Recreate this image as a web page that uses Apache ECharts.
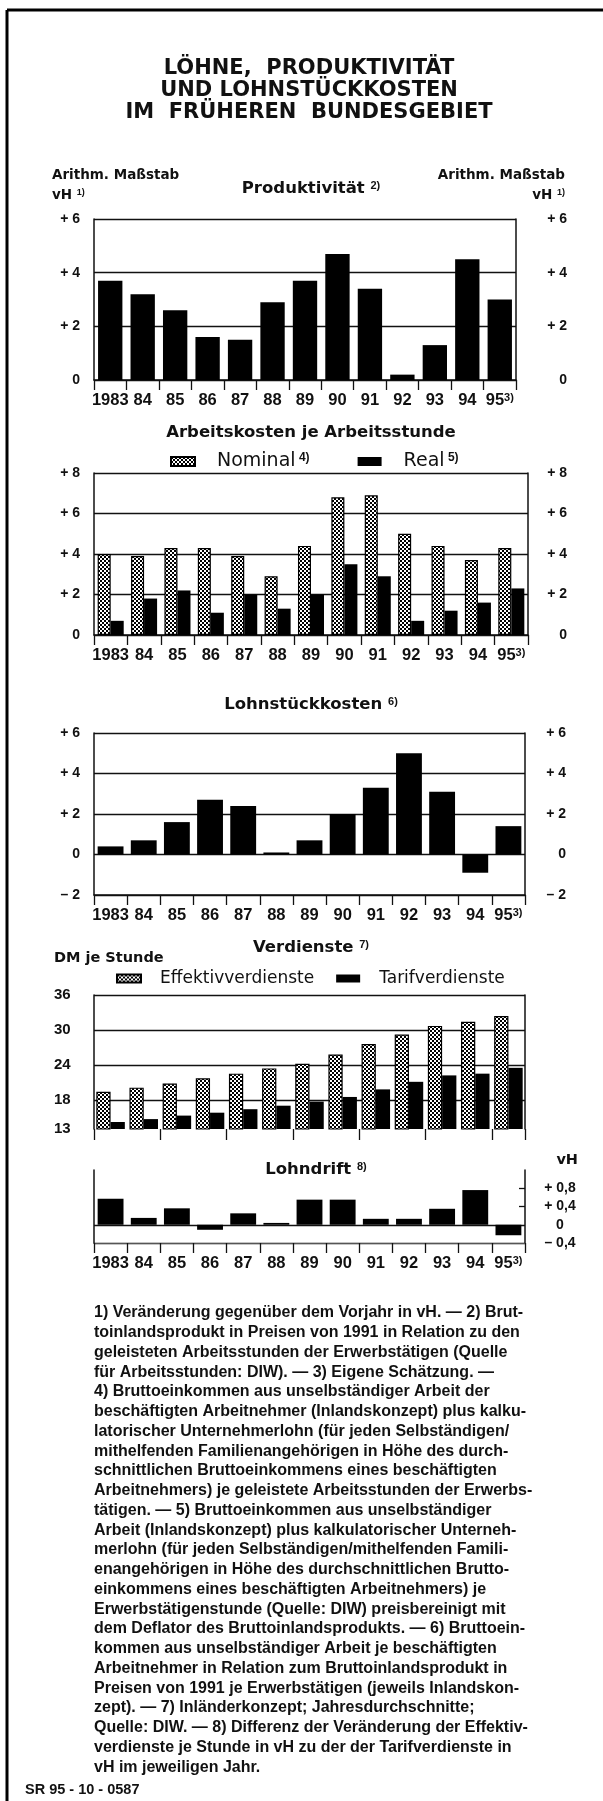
<!DOCTYPE html>
<html>
<head>
<meta charset="utf-8">
<script src="https://cdn.jsdelivr.net/npm/echarts@6/dist/echarts.min.js"></script>
<style>
  html, body { margin: 0; padding: 0; background: #fff; }
  #chart { width: 603px; height: 1801px; }
</style>
</head>
<body>
<div id="chart"></div>
<script>
// Jahre (x-Achse aller Teilgrafiken)
const years = ['1983', '84', '85', '86', '87', '88', '89', '90', '91', '92', '93', '94', '95'];

// Veraenderung gegenueber Vorjahr in vH
const produktivitaet = [3.7, 3.2, 2.6, 1.6, 1.5, 2.9, 3.7, 4.7, 3.4, 0.2, 1.3, 4.5, 3.0];
const akNominal = [4.0, 3.9, 4.3, 4.3, 3.9, 2.9, 4.4, 6.8, 6.9, 5.0, 4.4, 3.7, 4.3];
const akReal = [0.7, 1.8, 2.2, 1.1, 2.0, 1.3, 2.0, 3.5, 2.9, 0.7, 1.2, 1.6, 2.3];
const lohnstueck = [0.4, 0.7, 1.6, 2.7, 2.4, 0.1, 0.7, 2.0, 3.3, 5.0, 3.1, -0.9, 1.4];

// DM je Stunde
const effektiv = [19.4, 20.1, 20.8, 21.7, 22.5, 23.4, 24.2, 25.8, 27.6, 29.2, 30.7, 31.4, 32.4];
const tarif = [14.2, 14.7, 15.3, 15.8, 16.4, 17.0, 17.7, 18.5, 19.8, 21.1, 22.2, 22.5, 23.5];

// Lohndrift in vH-Punkten
const lohndrift = [0.57, 0.15, 0.36, -0.11, 0.25, 0.04, 0.55, 0.55, 0.13, 0.13, 0.35, 0.76, -0.23];

// Achsenbeschriftungen
const verdTicks = [13, 18, 24, 30, 36];
const driftTicks = [-0.4, 0, 0.4, 0.8];
const driftInnerTicks = [0.4, 0.8];

const footnotes = [
  '1) Veränderung gegenüber dem Vorjahr in vH. — 2) Brut-',
  'toinlandsprodukt in Preisen von 1991 in Relation zu den',
  'geleisteten Arbeitsstunden der Erwerbstätigen (Quelle',
  'für Arbeitsstunden: DIW). — 3) Eigene Schätzung. —',
  '4) Bruttoeinkommen aus unselbständiger Arbeit der',
  'beschäftigten Arbeitnehmer (Inlandskonzept) plus kalku-',
  'latorischer Unternehmerlohn (für jeden Selbständigen/',
  'mithelfenden Familienangehörigen in Höhe des durch-',
  'schnittlichen Bruttoeinkommens eines beschäftigten',
  'Arbeitnehmers) je geleistete Arbeitsstunden der Erwerbs-',
  'tätigen. — 5) Bruttoeinkommen aus unselbständiger',
  'Arbeit (Inlandskonzept) plus kalkulatorischer Unterneh-',
  'merlohn (für jeden Selbständigen/mithelfenden Famili-',
  'enangehörigen in Höhe des durchschnittlichen Brutto-',
  'einkommens eines beschäftigten Arbeitnehmers) je',
  'Erwerbstätigenstunde (Quelle: DIW) preisbereinigt mit',
  'dem Deflator des Bruttoinlandsprodukts. — 6) Bruttoein-',
  'kommen aus unselbständiger Arbeit je beschäftigten',
  'Arbeitnehmer in Relation zum Bruttoinlandsprodukt in',
  'Preisen von 1991 je Erwerbstätigen (jeweils Inlandskon-',
  'zept). — 7) Inländerkonzept; Jahresdurchschnitte;',
  'Quelle: DIW. — 8) Differenz der Veränderung der Effektiv-',
  'verdienste je Stunde in vH zu der der Tarifverdienste in',
  'vH im jeweiligen Jahr.'
];

const NUM = '"Liberation Sans", Arial, sans-serif';
const WIDE = '"DejaVu Sans", Verdana, sans-serif';
const INK = '#111';

// Punktraster fuer Nominal / Effektivverdienste
function stipple () {
  const c = document.createElement('canvas');
  c.width = 4; c.height = 4;
  const g = c.getContext('2d');
  g.fillStyle = '#fff';
  g.fillRect(0, 0, 4, 4);
  g.fillStyle = '#000';
  g.fillRect(0, 0, 2, 2);
  g.fillRect(2, 2, 2, 2);
  return c;
}
const dotted = { image: stipple(), repeat: 'repeat' };

function vhLabel (v) {
  if (Math.abs(v) < 1e-9) return '0';
  return (v > 0 ? '+ ' : '– ') + Math.abs(v);
}
function driftLabel (v) {
  if (Math.abs(v) < 1e-9) return '0';
  return (v > 0 ? '+ ' : '– ') + Math.abs(v).toFixed(1).replace('.', ',');
}

const supRich = { s: { fontSize: 11, fontWeight: 'bold', fontFamily: NUM, verticalAlign: 'top', color: INK } };

function xAx (grid, opts) {
  return Object.assign({
    type: 'category', gridIndex: grid, data: years, boundaryGap: true,
    axisLine: { show: true, onZero: false, lineStyle: { color: INK, width: 1.5 } },
    axisTick: { show: true, alignWithLabel: false, length: 10, lineStyle: { color: INK, width: 1.3 } },
    axisLabel: {
      show: true, margin: 12, color: INK, fontFamily: NUM, fontWeight: 'bold', fontSize: 16.5,
      interval: 0,
      formatter: v => v === '95' ? '95{s|3)}' : v,
      rich: supRich
    }
  }, opts || {});
}

function yAx (grid, pos, min, max, interval, margin, fmt, extra) {
  return Object.assign({
    type: 'value', gridIndex: grid, position: pos, min: min, max: max, interval: interval,
    axisLine: { show: true, lineStyle: { color: INK, width: 1.5 } },
    axisTick: { show: false },
    splitLine: { show: pos === 'left', lineStyle: { color: INK, width: 1.3 } },
    axisLabel: {
      show: true, margin: margin, align: 'right', color: INK,
      fontFamily: NUM, fontWeight: 'bold', fontSize: 14, formatter: fmt
    }
  }, extra || {});
}

function bar (name, x, y, data, extra) {
  return Object.assign({
    name: name, type: 'bar', xAxisIndex: x, yAxisIndex: y, data: data,
    itemStyle: { color: '#000' }, barCategoryGap: '24%', silent: true, animation: false
  }, extra || {});
}

function txt (x, y, text, size, opts) {
  return {
    type: 'text', x: x, y: y, silent: true,
    style: Object.assign({
      text: text, fill: INK, fontFamily: WIDE, fontWeight: 'bold', fontSize: size,
      align: 'center', verticalAlign: 'middle',
      rich: {
        s: { fontSize: Math.round(size * 0.68), fontWeight: 'bold', fontFamily: NUM, verticalAlign: 'top', fill: INK }
      }
    }, opts || {})
  };
}

const option = {
  backgroundColor: '#fff',
  animation: false,
  grid: [
    { left: 94, top: 219, width: 422, height: 161 },
    { left: 94, top: 473, width: 434, height: 162 },
    { left: 94, top: 733, width: 431, height: 162 },
    { left: 94, top: 995, width: 431, height: 134 },
    { left: 94, top: 1170, width: 431, height: 73 }
  ],
  legend: [
    {
      data: ['Nominal', 'Real'], left: 165, top: 447, itemWidth: 24, itemHeight: 9, itemGap: 48,
      selectedMode: false, icon: 'rect',
      formatter: n => n === 'Nominal' ? '{n|Nominal}{s| 4)}' : '{n|Real}{s| 5)}',
      textStyle: {
        color: INK,
        rich: {
          n: { fontSize: 19, fontFamily: WIDE, color: INK, padding: [0, 0, 0, 17] },
          s: { fontSize: 12, fontFamily: NUM, fontWeight: 'bold', color: INK, verticalAlign: 'top' }
        }
      }
    },
    {
      data: ['Effektivverdienste', 'Tarifverdienste'], left: 111, top: 965, itemWidth: 24, itemHeight: 8, itemGap: 22,
      selectedMode: false, icon: 'rect',
      formatter: n => '{n|' + n + '}',
      textStyle: {
        color: INK,
        rich: { n: { fontSize: 17, fontFamily: WIDE, color: INK, padding: [0, 0, 0, 14] } }
      }
    }
  ],
  xAxis: [
    xAx(0),
    xAx(1),
    xAx(2),
    xAx(3, { axisLine: { show: false }, axisLabel: { show: false }, axisTick: { show: true, alignWithLabel: false, length: 11, lineStyle: { color: INK, width: 1.3 } } }),
    xAx(4, { axisLine: { show: true, onZero: false, lineStyle: { color: '#555', width: 1 } } })
  ],
  yAxis: [
    // Produktivitaet
    yAx(0, 'left', 0, 6, 2, 14, vhLabel),
    yAx(0, 'right', 0, 6, 2, 51, vhLabel),
    // Arbeitskosten
    yAx(1, 'left', 0, 8, 2, 14, vhLabel),
    yAx(1, 'right', 0, 8, 2, 39, vhLabel),
    // Lohnstueckkosten
    yAx(2, 'left', -2, 6, 2, 14, vhLabel),
    yAx(2, 'right', -2, 6, 2, 41, vhLabel),
    // Verdienste
    yAx(3, 'left', 13, 36, null, 40, v => String(v), {
      axisTick: { show: false, customValues: verdTicks },
      axisLabel: { show: true, customValues: verdTicks, margin: 40, align: 'left', color: INK, fontFamily: NUM, fontWeight: 'bold', fontSize: 15 },
      splitLine: { show: true, showMinLine: false, lineStyle: { color: INK, width: 1.3 } }
    }),
    yAx(3, 'right', 13, 36, null, 20, v => String(v), { axisLabel: { show: false } }),
    // Lohndrift
    yAx(4, 'left', -0.4, 1.2, 0.4, 14, driftLabel, {
      axisLabel: { show: false },
      axisTick: { show: false, customValues: [-0.4, 0] },
      splitLine: { show: true, lineStyle: { color: INK, width: 1.3 } }
    }),
    yAx(4, 'right', -0.4, 1.2, 0.4, 35, driftLabel, {
      axisTick: { show: true, inside: true, length: 6, customValues: driftInnerTicks, lineStyle: { color: INK, width: 1.3 } },
      axisLabel: { show: true, customValues: driftTicks, margin: 35, align: 'center', color: INK, fontFamily: NUM, fontWeight: 'bold', fontSize: 14, formatter: driftLabel }
    })
  ],
  series: [
    bar('Produktivität', 0, 0, produktivitaet, { barCategoryGap: '25%' }),
    bar('Nominal', 1, 2, akNominal, {
      barGap: '0%', barCategoryGap: '22%',
      itemStyle: { color: dotted, borderColor: '#000', borderWidth: 1.2 }
    }),
    bar('Real', 1, 2, akReal, { barGap: '0%', barCategoryGap: '22%' }),
    bar('Lohnstückkosten', 2, 4, lohnstueck, { barCategoryGap: '22%' }),
    bar('Effektivverdienste', 3, 6, effektiv, {
      barGap: '0%', barCategoryGap: '14%',
      itemStyle: { color: dotted, borderColor: '#000', borderWidth: 1.2 }
    }),
    bar('Tarifverdienste', 3, 6, tarif, { barGap: '0%', barCategoryGap: '14%' }),
    bar('Lohndrift', 4, 8, lohndrift, { barCategoryGap: '22%' })
  ],
  graphic: [
    // Rahmen
    { type: 'line', silent: true, shape: { x1: 7, y1: 10, x2: 603, y2: 10 }, style: { stroke: '#000', lineWidth: 3 } },
    { type: 'line', silent: true, shape: { x1: 7, y1: 10, x2: 7, y2: 1801 }, style: { stroke: '#000', lineWidth: 3 } },
    // Haupttitel
    txt(309, 69, 'LÖHNE,  PRODUKTIVITÄT', 21),
    txt(309, 91, 'UND LOHNSTÜCKKOSTEN', 21),
    txt(309, 113, 'IM  FRÜHEREN  BUNDESGEBIET', 21),
    // Achsenhinweise
    txt(52, 175, 'Arithm. Maßstab', 13.5, { align: 'left' }),
    txt(565, 175, 'Arithm. Maßstab', 13.5, { align: 'right' }),
    txt(52, 195, 'vH {s|1)}', 13.5, { align: 'left' }),
    txt(565, 195, 'vH {s|1)}', 13.5, { align: 'right' }),
    // Teiltitel
    txt(311, 189, 'Produktivität {s|2)}', 16.5),
    txt(311, 433, 'Arbeitskosten je Arbeitsstunde', 16.5),
    txt(311, 705, 'Lohnstückkosten {s|6)}', 16.5),
    txt(311, 948, 'Verdienste {s|7)}', 16.5),
    txt(54, 958, 'DM je Stunde', 14.5, { align: 'left' }),
    txt(316, 1170, 'Lohndrift {s|8)}', 16.5),
    txt(578, 1160, 'vH', 14.5, { align: 'right' }),
    // Fussnoten
    {
      type: 'text', x: 94, y: 1303, silent: true,
      style: {
        text: footnotes.join('\n'), fill: INK, fontFamily: NUM, fontWeight: 'bold',
        fontSize: 16, lineHeight: 19.75, align: 'left', verticalAlign: 'top'
      }
    },
    {
      type: 'text', x: 25, y: 1790, silent: true,
      style: { text: 'SR 95 - 10 - 0587', fill: INK, fontFamily: NUM, fontWeight: 'bold', fontSize: 14.5, align: 'left', verticalAlign: 'middle' }
    }
  ]
};

const chart = echarts.init(document.getElementById('chart'));
chart.setOption(option);
</script>
</body>
</html>
